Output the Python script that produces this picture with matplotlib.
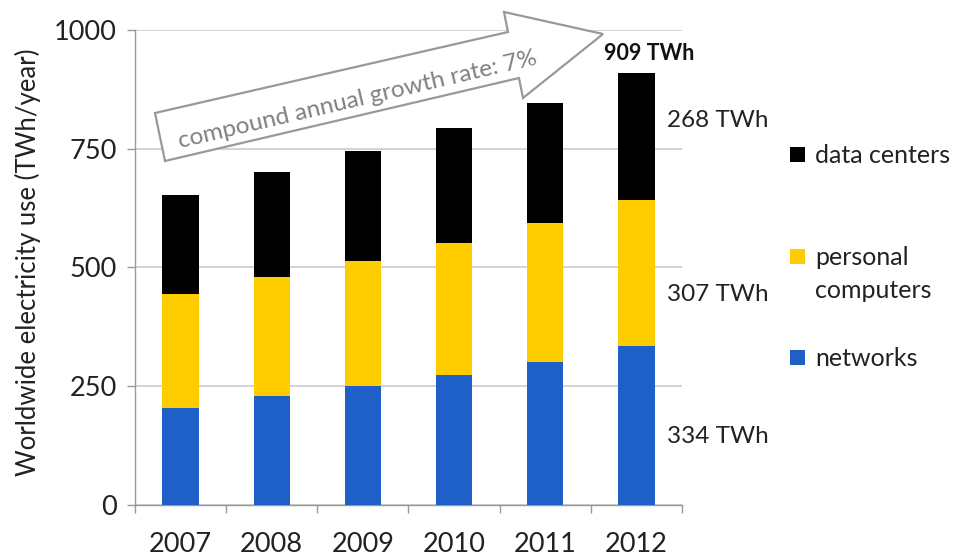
import matplotlib
matplotlib.use("Agg")
import matplotlib.pyplot as plt
from matplotlib.patches import Polygon, Rectangle
import numpy as np

plt.rcParams['font.family'] = ['Lato', 'DejaVu Sans']

years = ['2007', '2008', '2009', '2010', '2011', '2012']
networks = [204, 229, 249, 274, 301, 334]
personal_computers = [240, 251, 265, 277, 292, 307]
data_centers = [209, 221, 231, 242, 254, 268]
yticks = [0, 250, 500, 750, 1000]
colors = {'networks': '#1f5fc8', 'pcs': '#ffcc00', 'dc': '#000000'}

W, H = 957, 557
fig = plt.figure(figsize=(W / 100, H / 100), dpi=100)
ax = fig.add_axes([135 / W, 1 - 504.7 / H, (682 - 135) / W, (504.7 - 30) / H])

x = np.arange(len(years))
net = np.array(networks)
pc = np.array(personal_computers)
dc = np.array(data_centers)
bw = 0.40
ax.bar(x, net, bw, color=colors['networks'], zorder=3)
ax.bar(x, pc, bw, bottom=net, color=colors['pcs'], zorder=3)
ax.bar(x, dc, bw, bottom=net + pc, color=colors['dc'], zorder=3)

ax.set_xlim(-0.5, len(years) - 0.5)
ax.set_ylim(0, 1000)
ax.set_yticks(yticks)
ax.set_yticklabels([str(v) for v in yticks], fontsize=19.5, color='#222222')
ax.set_xticks(x)
ax.set_xticklabels(years, fontsize=19.5, color='#222222')
ax.set_xticks(np.arange(-0.5, len(years)), minor=True)
ax.tick_params(axis='x', which='major', length=0, pad=20)
ax.tick_params(axis='x', which='minor', length=6, width=1, color='#999999', direction='out')
ax.tick_params(axis='y', which='major', length=6, width=1, color='#999999', pad=7)

for s in ['top', 'right']:
    ax.spines[s].set_visible(False)
for s in ['left', 'bottom']:
    ax.spines[s].set_color('#999999')
    ax.spines[s].set_linewidth(1)
ax.yaxis.grid(True, color='#cccccc', linewidth=1.2, zorder=0)
ax.set_axisbelow(True)

# Segment labels for 2012
last = len(years) - 1
lab_x = last + 0.34
ax.text(lab_x, 143, f'{networks[last]} TWh', fontsize=17.5, color='#222222', va='center', ha='left')
ax.text(lab_x, 442, f'{personal_computers[last]} TWh', fontsize=17.5, color='#222222', va='center', ha='left')
ax.text(lab_x, 810, f'{data_centers[last]} TWh', fontsize=17.5, color='#222222', va='center', ha='left')
total = networks[last] + personal_computers[last] + data_centers[last]
ax.text(last - 0.36, 951, f'{total} TWh', fontsize=15.5, fontweight='bold', color='#111111',
        va='center', ha='left')

# Y label
fig.text(28 / W, 1 - 262 / H, 'Worldwide electricity use (TWh/year)', rotation=90,
         fontsize=18.5, color='#222222', ha='center', va='center')

# Arrow annotation
pts = [(155, 113), (508, 32), (504, 12), (603, 34), (523, 98), (519, 78), (165, 161)]
poly = Polygon([(px / W, 1 - py / H) for px, py in pts], closed=True, transform=fig.transFigure,
               facecolor='white', edgecolor='#999999', linewidth=1.6, zorder=5)
fig.patches.append(poly)
fig.text(358 / W, 1 - 100 / H, 'compound annual growth rate: 7%', rotation=13.2,
         rotation_mode='anchor', fontsize=17.5, color='#808080', ha='center', va='center', zorder=6)

# Legend
leg = [('data centers', colors['dc'], 155), ('personal\ncomputers', colors['pcs'], 257),
       ('networks', colors['networks'], 358)]
for name, col, yc in leg:
    fig.patches.append(Rectangle((790 / W, 1 - (yc + 7) / H), 15 / W, 15 / H,
                                 transform=fig.transFigure, facecolor=col, edgecolor='none'))
    fig.text(815 / W, 1 - (yc - 11) / H, name, fontsize=18, color='#222222', ha='left',
             va='top', linespacing=1.5)

fig.savefig('out.png', dpi=100)
